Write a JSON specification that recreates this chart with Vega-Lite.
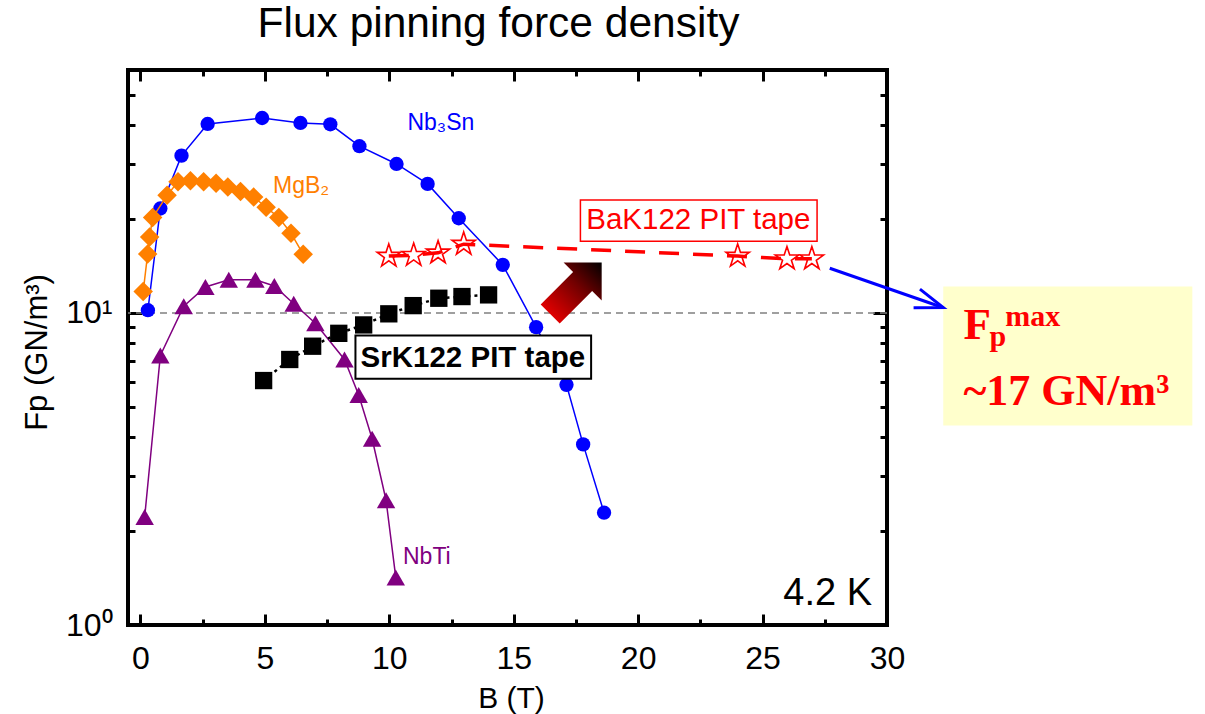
{
  "$schema": "https://vega.github.io/schema/vega-lite/v6.json",
  "width": 759,
  "height": 555,
  "autosize": {"type": "none"},
  "padding": {"left": 128, "top": 70, "right": 318, "bottom": 89},
  "background": "white",
  "config": {
    "view": {"stroke": "black", "strokeWidth": 4},
    "font": "Liberation Sans"
  },
  "title": {
    "text": "Flux pinning force density",
    "fontSize": 42.5,
    "font": "Liberation Sans",
    "fontWeight": "normal",
    "color": "black",
    "anchor": "middle",
    "baseline": "alphabetic",
    "offset": -11,
    "dx": -9
  },
  "datasets": {
    "nb3sn": [
      {"B": 0.3, "Fp": 10.2}, {"B": 0.8, "Fp": 21.6}, {"B": 1.65, "Fp": 31.9}, {"B": 2.7, "Fp": 40.3},
      {"B": 4.89, "Fp": 42.1}, {"B": 6.43, "Fp": 40.6}, {"B": 7.63, "Fp": 40.2}, {"B": 8.8, "Fp": 34.2},
      {"B": 10.29, "Fp": 30.0}, {"B": 11.54, "Fp": 25.9}, {"B": 12.79, "Fp": 20.1}, {"B": 14.56, "Fp": 14.25},
      {"B": 15.9, "Fp": 9.0}, {"B": 17.12, "Fp": 5.88}, {"B": 17.79, "Fp": 3.79}, {"B": 18.63, "Fp": 2.29}
    ],
    "mgb2": [
      {"B": 0.11, "Fp": 11.7}, {"B": 0.29, "Fp": 15.45}, {"B": 0.37, "Fp": 17.5}, {"B": 0.49, "Fp": 20.2},
      {"B": 1.07, "Fp": 23.8}, {"B": 1.51, "Fp": 26.3}, {"B": 2.01, "Fp": 26.5}, {"B": 2.54, "Fp": 26.3},
      {"B": 3.04, "Fp": 26.0}, {"B": 3.51, "Fp": 25.3}, {"B": 4.02, "Fp": 24.5}, {"B": 4.55, "Fp": 23.5},
      {"B": 5.05, "Fp": 21.8}, {"B": 5.56, "Fp": 20.2}, {"B": 6.05, "Fp": 18.0}, {"B": 6.54, "Fp": 15.4}
    ],
    "nbti": [
      {"B": 0.17, "Fp": 2.22}, {"B": 0.8, "Fp": 7.3}, {"B": 1.74, "Fp": 10.5}, {"B": 2.61, "Fp": 12.1},
      {"B": 3.55, "Fp": 12.76}, {"B": 4.62, "Fp": 12.76}, {"B": 5.38, "Fp": 12.2}, {"B": 6.16, "Fp": 10.7},
      {"B": 7.03, "Fp": 9.26}, {"B": 8.2, "Fp": 7.09}, {"B": 8.77, "Fp": 5.46}, {"B": 9.31, "Fp": 3.95},
      {"B": 9.87, "Fp": 2.51}, {"B": 10.26, "Fp": 1.42}
    ],
    "srk122": [
      {"B": 4.95, "Fp": 6.07}, {"B": 6.0, "Fp": 7.09}, {"B": 6.92, "Fp": 7.82}, {"B": 7.97, "Fp": 8.6},
      {"B": 8.97, "Fp": 9.15}, {"B": 9.98, "Fp": 9.93}, {"B": 10.96, "Fp": 10.55}, {"B": 11.99, "Fp": 11.14},
      {"B": 12.92, "Fp": 11.28}, {"B": 13.99, "Fp": 11.42}
    ],
    "bak122": [
      {"B": 9.98, "Fp": 15.2}, {"B": 10.98, "Fp": 15.3}, {"B": 11.96, "Fp": 15.57}, {"B": 12.99, "Fp": 16.6},
      {"B": 24.0, "Fp": 15.2}, {"B": 25.98, "Fp": 14.9}, {"B": 26.98, "Fp": 14.9}
    ]
  },
  "resolve": {"axis": {"x": "independent", "y": "independent"}},
  "layer": [
    {
      "data": {"values": [{"B": 32.26, "B2": 42.27, "Fp": 4.355, "Fp2": 12.14}]},
      "mark": {"type": "rect", "fill": "#FFFFCC", "stroke": null, "clip": false},
      "encoding": {
        "x": {"field": "B", "type": "quantitative", "scale": {"domain": [-0.5, 30], "nice": false, "zero": false}, "axis": null},
        "x2": {"field": "B2"},
        "y": {"field": "Fp", "type": "quantitative", "scale": {"type": "log", "domain": [1, 60], "nice": false}, "axis": null},
        "y2": {"field": "Fp2"}
      }
    },
    {
      "data": {"values": [{"Fp": 10}]},
      "mark": {"type": "rule", "color": "#808080", "strokeWidth": 1.5, "strokeDash": [7, 5]},
      "encoding": {
        "y": {"field": "Fp", "type": "quantitative", "scale": {"type": "log", "domain": [1, 60], "nice": false}, "axis": null}
      }
    },
    {
      "data": {"name": "nb3sn"},
      "mark": {"type": "line", "color": "#0000FF", "strokeWidth": 1.5},
      "encoding": {
        "x": {
          "field": "B", "type": "quantitative",
          "scale": {"domain": [-0.5, 30], "nice": false, "zero": false},
          "axis": {
            "orient": "bottom",
            "values": [0, 2.5, 5, 7.5, 10, 12.5, 15, 17.5, 20, 22.5, 25, 27.5, 30],
            "labelExpr": "datum.value % 5 === 0 ? format(datum.value, 'd') : ''",
            "tickSize": {"condition": {"test": "datum.value % 5 === 0", "value": -11}, "value": -6},
            "tickWidth": 3, "tickColor": "black", "domain": false, "grid": false,
            "labelFontSize": 32, "labelFont": "Liberation Sans", "labelColor": "black", "labelPadding": 29,
            "labelFlush": false, "labelOverlap": false, "labelBound": false,
            "title": "B (T)", "titleFontSize": 30, "titleFont": "Liberation Sans", "titleFontWeight": "normal",
            "titleColor": "black", "titleBaseline": "alphabetic", "titleY": 82, "titleX": 383
          }
        },
        "y": {
          "field": "Fp", "type": "quantitative",
          "scale": {"type": "log", "domain": [1, 60], "nice": false},
          "axis": {
            "orient": "left",
            "values": [1, 2, 3, 4, 5, 6, 7, 8, 9, 10, 20, 30, 40, 50],
            "labelExpr": "datum.value === 1 ? '10⁰' : (datum.value === 10 ? '10¹' : '')",
            "tickSize": {"condition": {"test": "datum.value === 1 || datum.value === 10", "value": -14}, "value": -7},
            "tickWidth": 3, "tickColor": "black", "domain": false, "grid": false,
            "labelFontSize": 32, "labelFont": "Liberation Sans", "labelColor": "black", "labelPadding": 30,
            "labelFlush": false, "labelOverlap": false, "labelBound": false,
            "title": "Fp (GN/m³)", "titleFontSize": 31, "titleFont": "Liberation Sans", "titleFontWeight": "normal",
            "titleColor": "black", "titleAngle": 270, "titleBaseline": "alphabetic", "titleAlign": "center",
            "titleX": -82, "titleY": 282
          }
        }
      }
    },
    {
      "data": {"name": "nb3sn"},
      "mark": {"type": "point", "shape": "circle", "filled": true, "color": "#0000FF", "size": 205, "opacity": 1},
      "encoding": {
        "x": {
          "field": "B", "type": "quantitative",
          "scale": {"domain": [-0.5, 30], "nice": false, "zero": false},
          "axis": {
            "orient": "top",
            "values": [0, 2.5, 5, 7.5, 10, 12.5, 15, 17.5, 20, 22.5, 25, 27.5, 30],
            "labels": false,
            "tickSize": {"condition": {"test": "datum.value % 5 === 0", "value": -11}, "value": -6},
            "tickWidth": 3, "tickColor": "black", "domain": false, "grid": false, "title": null
          }
        },
        "y": {
          "field": "Fp", "type": "quantitative",
          "scale": {"type": "log", "domain": [1, 60], "nice": false},
          "axis": {
            "orient": "right",
            "values": [1, 2, 3, 4, 5, 6, 7, 8, 9, 10, 20, 30, 40, 50],
            "labels": false,
            "tickSize": {"condition": {"test": "datum.value === 1 || datum.value === 10", "value": -14}, "value": -7},
            "tickWidth": 3, "tickColor": "black", "domain": false, "grid": false, "title": null
          }
        }
      }
    },
    {
      "data": {"name": "mgb2"},
      "mark": {"type": "line", "color": "#FF8000", "strokeWidth": 1.5},
      "encoding": {
        "x": {"field": "B", "type": "quantitative", "scale": {"domain": [-0.5, 30], "nice": false, "zero": false}, "axis": null},
        "y": {"field": "Fp", "type": "quantitative", "scale": {"type": "log", "domain": [1, 60], "nice": false}, "axis": null}
      }
    },
    {
      "data": {"name": "mgb2"},
      "mark": {"type": "point", "shape": "diamond", "filled": true, "color": "#FF8000", "size": 380, "opacity": 1},
      "encoding": {
        "x": {"field": "B", "type": "quantitative", "scale": {"domain": [-0.5, 30], "nice": false, "zero": false}, "axis": null},
        "y": {"field": "Fp", "type": "quantitative", "scale": {"type": "log", "domain": [1, 60], "nice": false}, "axis": null}
      }
    },
    {
      "data": {"name": "nbti"},
      "mark": {"type": "line", "color": "#800080", "strokeWidth": 1.5},
      "encoding": {
        "x": {"field": "B", "type": "quantitative", "scale": {"domain": [-0.5, 30], "nice": false, "zero": false}, "axis": null},
        "y": {"field": "Fp", "type": "quantitative", "scale": {"type": "log", "domain": [1, 60], "nice": false}, "axis": null}
      }
    },
    {
      "data": {"name": "nbti"},
      "mark": {"type": "point", "shape": "triangle-up", "filled": true, "color": "#800080", "size": 340, "opacity": 1},
      "encoding": {
        "x": {"field": "B", "type": "quantitative", "scale": {"domain": [-0.5, 30], "nice": false, "zero": false}, "axis": null},
        "y": {"field": "Fp", "type": "quantitative", "scale": {"type": "log", "domain": [1, 60], "nice": false}, "axis": null}
      }
    },
    {
      "data": {"name": "srk122"},
      "mark": {"type": "line", "color": "black", "strokeWidth": 2.5, "strokeDash": [3, 4]},
      "encoding": {
        "x": {"field": "B", "type": "quantitative", "scale": {"domain": [-0.5, 30], "nice": false, "zero": false}, "axis": null},
        "y": {"field": "Fp", "type": "quantitative", "scale": {"type": "log", "domain": [1, 60], "nice": false}, "axis": null}
      }
    },
    {
      "data": {"name": "srk122"},
      "mark": {"type": "point", "shape": "square", "filled": true, "color": "black", "size": 300, "opacity": 1},
      "encoding": {
        "x": {"field": "B", "type": "quantitative", "scale": {"domain": [-0.5, 30], "nice": false, "zero": false}, "axis": null},
        "y": {"field": "Fp", "type": "quantitative", "scale": {"type": "log", "domain": [1, 60], "nice": false}, "axis": null}
      }
    },
    {
      "data": {"name": "bak122"},
      "mark": {"type": "line", "color": "#FF0000", "strokeWidth": 3.5, "strokeDash": [20, 14]},
      "encoding": {
        "x": {"field": "B", "type": "quantitative", "scale": {"domain": [-0.5, 30], "nice": false, "zero": false}, "axis": null},
        "y": {"field": "Fp", "type": "quantitative", "scale": {"type": "log", "domain": [1, 60], "nice": false}, "axis": null}
      }
    },
    {
      "data": {"name": "bak122"},
      "mark": {"type": "point", "shape": "M0,-1L0.225,-0.309L0.951,-0.309L0.363,0.118L0.588,0.809L0,0.382L-0.588,0.809L-0.363,0.118L-0.951,-0.309L-0.225,-0.309Z", "filled": false, "color": "#FF0000", "strokeWidth": 1.6, "size": 600, "opacity": 1},
      "encoding": {
        "x": {"field": "B", "type": "quantitative", "scale": {"domain": [-0.5, 30], "nice": false, "zero": false}, "axis": null},
        "y": {"field": "Fp", "type": "quantitative", "scale": {"type": "log", "domain": [1, 60], "nice": false}, "axis": null}
      }
    },
    {
      "data": {"values": [{"B": 27.7, "Fp": 13.9}, {"B": 32.1, "Fp": 10.5}]},
      "mark": {"type": "line", "color": "#0000FF", "strokeWidth": 3, "clip": false},
      "encoding": {
        "x": {"field": "B", "type": "quantitative", "scale": {"domain": [-0.5, 30], "nice": false, "zero": false}, "axis": null},
        "y": {"field": "Fp", "type": "quantitative", "scale": {"type": "log", "domain": [1, 60], "nice": false}, "axis": null}
      }
    },
    {
      "data": {"values": [{"B": 32.26, "Fp": 10.4}]},
      "mark": {"type": "point", "shape": "M-1,-0.35L0,0L-1,0.35", "filled": false, "color": "#0000FF", "strokeWidth": 3, "size": 3136, "angle": 19, "opacity": 1, "clip": false},
      "encoding": {
        "x": {"field": "B", "type": "quantitative", "scale": {"domain": [-0.5, 30], "nice": false, "zero": false}, "axis": null},
        "y": {"field": "Fp", "type": "quantitative", "scale": {"type": "log", "domain": [1, 60], "nice": false}, "axis": null}
      }
    },
    {
      "data": {"values": [{"B": 17.5, "Fp": 12.0}]},
      "mark": {
        "type": "point",
        "shape": "M-1,-0.37L0.26,-0.37L0.26,-0.74L1,0L0.26,0.74L0.26,0.37L-1,0.37Z",
        "filled": true, "size": 5300, "angle": -45, "opacity": 1, "strokeWidth": 0,
        "fill": {"gradient": "linear", "x1": 0, "y1": 0, "x2": 1, "y2": 0,
          "stops": [{"offset": 0, "color": "#E00000"}, {"offset": 0.55, "color": "#700000"}, {"offset": 1, "color": "#000000"}]},
        "clip": false
      },
      "encoding": {
        "x": {"field": "B", "type": "quantitative", "scale": {"domain": [-0.5, 30], "nice": false, "zero": false}, "axis": null},
        "y": {"field": "Fp", "type": "quantitative", "scale": {"type": "log", "domain": [1, 60], "nice": false}, "axis": null}
      }
    },
    {
      "data": {"values": [{"B": 17.68, "B2": 27.19, "Fp": 16.96, "Fp2": 23.0}]},
      "mark": {"type": "rect", "fill": "white", "stroke": "#FF0000", "strokeWidth": 1.5, "clip": false},
      "encoding": {
        "x": {"field": "B", "type": "quantitative", "scale": {"domain": [-0.5, 30], "nice": false, "zero": false}, "axis": null},
        "x2": {"field": "B2"},
        "y": {"field": "Fp", "type": "quantitative", "scale": {"type": "log", "domain": [1, 60], "nice": false}, "axis": null},
        "y2": {"field": "Fp2"}
      }
    },
    {
      "data": {"values": [{"B": 8.64, "B2": 18.11, "Fp": 6.15, "Fp2": 8.46}]},
      "mark": {"type": "rect", "fill": "white", "stroke": "black", "strokeWidth": 2, "clip": false},
      "encoding": {
        "x": {"field": "B", "type": "quantitative", "scale": {"domain": [-0.5, 30], "nice": false, "zero": false}, "axis": null},
        "x2": {"field": "B2"},
        "y": {"field": "Fp", "type": "quantitative", "scale": {"type": "log", "domain": [1, 60], "nice": false}, "axis": null},
        "y2": {"field": "Fp2"}
      }
    },
    {
      "data": {"values": [{"B": 22.42, "Fp": 18.58, "label": "BaK122 PIT tape"}]},
      "mark": {"type": "text", "color": "#FF0000", "fontSize": 29.5, "font": "Liberation Sans", "align": "center", "baseline": "alphabetic", "clip": false},
      "encoding": {
        "x": {"field": "B", "type": "quantitative", "scale": {"domain": [-0.5, 30], "nice": false, "zero": false}, "axis": null},
        "y": {"field": "Fp", "type": "quantitative", "scale": {"type": "log", "domain": [1, 60], "nice": false}, "axis": null},
        "text": {"field": "label"}
      }
    },
    {
      "data": {"values": [{"B": 13.36, "Fp": 6.73, "label": "SrK122 PIT tape"}]},
      "mark": {"type": "text", "color": "black", "fontSize": 29.5, "fontWeight": "bold", "font": "Liberation Sans", "align": "center", "baseline": "alphabetic", "clip": false},
      "encoding": {
        "x": {"field": "B", "type": "quantitative", "scale": {"domain": [-0.5, 30], "nice": false, "zero": false}, "axis": null},
        "y": {"field": "Fp", "type": "quantitative", "scale": {"type": "log", "domain": [1, 60], "nice": false}, "axis": null},
        "text": {"field": "label"}
      }
    },
    {
      "data": {"values": [{"B": 10.73, "Fp": 38.6, "label": "Nb₃Sn"}]},
      "mark": {"type": "text", "color": "#0000FF", "fontSize": 23, "font": "Liberation Sans", "align": "left", "baseline": "alphabetic"},
      "encoding": {
        "x": {"field": "B", "type": "quantitative", "scale": {"domain": [-0.5, 30], "nice": false, "zero": false}, "axis": null},
        "y": {"field": "Fp", "type": "quantitative", "scale": {"type": "log", "domain": [1, 60], "nice": false}, "axis": null},
        "text": {"field": "label"}
      }
    },
    {
      "data": {"values": [{"B": 5.33, "Fp": 24.3, "label": "MgB₂"}]},
      "mark": {"type": "text", "color": "#FF8000", "fontSize": 23, "font": "Liberation Sans", "align": "left", "baseline": "alphabetic"},
      "encoding": {
        "x": {"field": "B", "type": "quantitative", "scale": {"domain": [-0.5, 30], "nice": false, "zero": false}, "axis": null},
        "y": {"field": "Fp", "type": "quantitative", "scale": {"type": "log", "domain": [1, 60], "nice": false}, "axis": null},
        "text": {"field": "label"}
      }
    },
    {
      "data": {"values": [{"B": 10.55, "Fp": 1.563, "label": "NbTi"}]},
      "mark": {"type": "text", "color": "#800080", "fontSize": 23, "font": "Liberation Sans", "align": "left", "baseline": "alphabetic"},
      "encoding": {
        "x": {"field": "B", "type": "quantitative", "scale": {"domain": [-0.5, 30], "nice": false, "zero": false}, "axis": null},
        "y": {"field": "Fp", "type": "quantitative", "scale": {"type": "log", "domain": [1, 60], "nice": false}, "axis": null},
        "text": {"field": "label"}
      }
    },
    {
      "data": {"values": [{"B": 29.4, "Fp": 1.155, "label": "4.2 K"}]},
      "mark": {"type": "text", "color": "black", "fontSize": 38, "font": "Liberation Sans", "align": "right", "baseline": "alphabetic"},
      "encoding": {
        "x": {"field": "B", "type": "quantitative", "scale": {"domain": [-0.5, 30], "nice": false, "zero": false}, "axis": null},
        "y": {"field": "Fp", "type": "quantitative", "scale": {"type": "log", "domain": [1, 60], "nice": false}, "axis": null},
        "text": {"field": "label"}
      }
    },
    {
      "data": {"values": [{"B": 33.07, "Fp": 8.27, "label": "F"}]},
      "mark": {"type": "text", "color": "#FF0000", "fontSize": 45, "fontWeight": "bold", "font": "Liberation Serif", "align": "left", "baseline": "alphabetic", "clip": false},
      "encoding": {
        "x": {"field": "B", "type": "quantitative", "scale": {"domain": [-0.5, 30], "nice": false, "zero": false}, "axis": null},
        "y": {"field": "Fp", "type": "quantitative", "scale": {"type": "log", "domain": [1, 60], "nice": false}, "axis": null},
        "text": {"field": "label"}
      }
    },
    {
      "data": {"values": [{"B": 34.12, "Fp": 7.86, "label": "p"}]},
      "mark": {"type": "text", "color": "#FF0000", "fontSize": 30, "fontWeight": "bold", "font": "Liberation Serif", "align": "left", "baseline": "alphabetic", "clip": false},
      "encoding": {
        "x": {"field": "B", "type": "quantitative", "scale": {"domain": [-0.5, 30], "nice": false, "zero": false}, "axis": null},
        "y": {"field": "Fp", "type": "quantitative", "scale": {"type": "log", "domain": [1, 60], "nice": false}, "axis": null},
        "text": {"field": "label"}
      }
    },
    {
      "data": {"values": [{"B": 34.75, "Fp": 9.11, "label": "max"}]},
      "mark": {"type": "text", "color": "#FF0000", "fontSize": 30, "fontWeight": "bold", "font": "Liberation Serif", "align": "left", "baseline": "alphabetic", "clip": false},
      "encoding": {
        "x": {"field": "B", "type": "quantitative", "scale": {"domain": [-0.5, 30], "nice": false, "zero": false}, "axis": null},
        "y": {"field": "Fp", "type": "quantitative", "scale": {"type": "log", "domain": [1, 60], "nice": false}, "axis": null},
        "text": {"field": "label"}
      }
    },
    {
      "data": {"values": [{"B": 33.07, "Fp": 5.05, "label": "~17 GN/m³"}]},
      "mark": {"type": "text", "color": "#FF0000", "fontSize": 44, "fontWeight": "bold", "font": "Liberation Serif", "align": "left", "baseline": "alphabetic", "clip": false},
      "encoding": {
        "x": {"field": "B", "type": "quantitative", "scale": {"domain": [-0.5, 30], "nice": false, "zero": false}, "axis": null},
        "y": {"field": "Fp", "type": "quantitative", "scale": {"type": "log", "domain": [1, 60], "nice": false}, "axis": null},
        "text": {"field": "label"}
      }
    }
  ]
}
